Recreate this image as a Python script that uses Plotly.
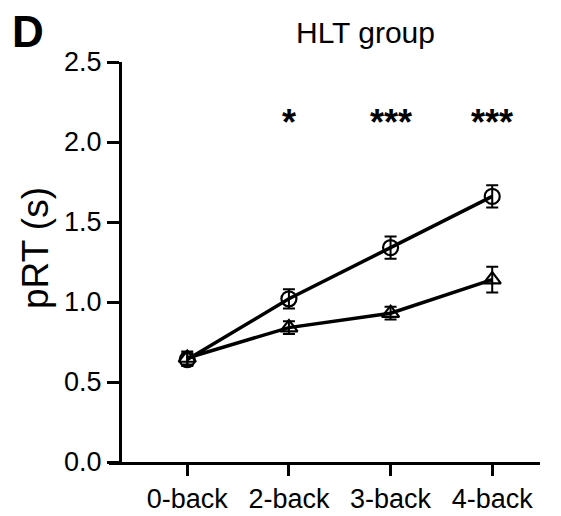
import plotly.graph_objects as go

categories = ["0-back", "2-back", "3-back", "4-back"]
circle_vals = [0.64, 1.02, 1.34, 1.66]
circle_err = [0.04, 0.06, 0.07, 0.07]
tri_vals = [0.65, 0.84, 0.93, 1.14]
tri_err = [0.04, 0.04, 0.04, 0.08]
sig_labels = ["", "*", "***", "***"]
sig_y = 2.12
y_ticks = [0.0, 0.5, 1.0, 1.5, 2.0, 2.5]

xpos = list(range(len(categories)))
FONT = "Liberation Sans, Arial, sans-serif"

# page has an 8px body margin; figure is sized to fit the 561x516 window
OFF = 8
W, H = 561 - OFF, 516 - OFF
ml, mr, mt, mb = 109 - OFF, 21, 62 - OFF, 54
pw = W - ml - mr
ph = H - mt - mb


def px(page_x):
    return (page_x - OFF - ml) / pw


def py(page_y):
    return 1 + (mt - (page_y - OFF)) / ph


fig = go.Figure()
fig.add_trace(go.Scatter(
    x=xpos, y=circle_vals, mode="lines+markers",
    line=dict(color="black", width=3.5),
    marker=dict(symbol="circle-open", size=15, color="black", line=dict(width=2.2)),
    error_y=dict(type="data", array=circle_err, color="black", thickness=2, width=6),
    showlegend=False))
fig.add_trace(go.Scatter(
    x=xpos, y=tri_vals, mode="lines+markers",
    line=dict(color="black", width=3.5),
    marker=dict(symbol="triangle-up-open", size=15, color="black", line=dict(width=2.2)),
    error_y=dict(type="data", array=tri_err, color="black", thickness=2, width=6),
    showlegend=False))

for i, s in enumerate(sig_labels):
    if s:
        fig.add_annotation(x=xpos[i], y=sig_y, text="<b>" + s + "</b>", showarrow=False,
                           xanchor="center", yanchor="middle",
                           font=dict(family=FONT, size=36, color="black"))

fig.update_layout(
    width=W, height=H,
    margin=dict(l=ml, r=mr, t=mt, b=mb, autoexpand=False),
    plot_bgcolor="white", paper_bgcolor="white",
    font=dict(family=FONT, color="black"),
    xaxis=dict(range=[-0.77, 3.47], tickvals=xpos, ticktext=categories, automargin=False,
               showgrid=False, zeroline=False, showline=True, linecolor="black", linewidth=3,
               ticks="outside", ticklen=11, tickwidth=3, tickcolor="black",
               tickfont=dict(size=27, family=FONT, color="black")),
    yaxis=dict(range=[0, 2.5], tickvals=y_ticks, ticktext=[f"{v:.1f}" for v in y_ticks],
               anchor="free", position=px(120), automargin=False,
               showgrid=False, zeroline=False, showline=True, linecolor="black", linewidth=3,
               ticks="outside", ticklen=12, tickwidth=3, tickcolor="black",
               tickfont=dict(size=27, family=FONT, color="black")),
)
fig.add_annotation(xref="paper", yref="paper", x=px(35), y=py(248), textangle=-90,
                   xanchor="center", yanchor="middle",
                   text="pRT (s)", showarrow=False,
                   font=dict(size=37, family=FONT, color="black"))
fig.add_annotation(xref="paper", yref="paper", x=px(365), y=py(33),
                   xanchor="center", yanchor="middle",
                   text="HLT group", showarrow=False,
                   font=dict(size=30, family=FONT, color="black"))
fig.add_annotation(xref="paper", yref="paper", x=px(28), y=py(31),
                   xanchor="center", yanchor="middle",
                   text="<b>D</b>", showarrow=False,
                   font=dict(size=44, family=FONT, color="black"))

fig.write_html("out.html")
